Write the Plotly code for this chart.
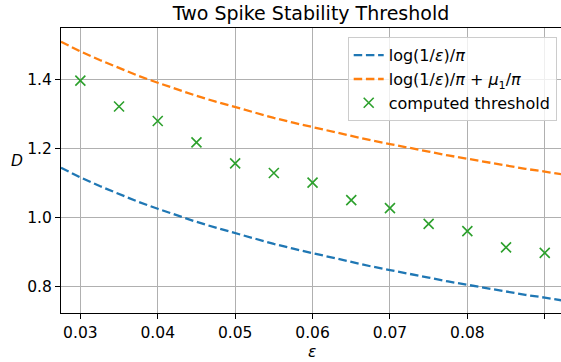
import plotly.graph_objects as go

# sampled epsilon values for the analytic curves
eps_curve = [0.0275, 0.0300, 0.0325, 0.0350, 0.0375, 0.0400, 0.0425, 0.0450, 0.0475,
             0.0500, 0.0525, 0.0550, 0.0575, 0.0600, 0.0625, 0.0650, 0.0675, 0.0700,
             0.0725, 0.0750, 0.0775, 0.0800, 0.0825, 0.0850, 0.0875, 0.0900, 0.0925]
# log(1/eps)/pi
lower_curve = [1.144, 1.116, 1.091, 1.067, 1.045, 1.025, 1.005, 0.987, 0.970,
               0.954, 0.938, 0.923, 0.909, 0.896, 0.883, 0.870, 0.858, 0.847,
               0.835, 0.825, 0.814, 0.804, 0.794, 0.785, 0.775, 0.767, 0.758]
# log(1/eps)/pi + mu1/pi
upper_curve = [1.510, 1.482, 1.457, 1.433, 1.411, 1.391, 1.371, 1.353, 1.336,
               1.320, 1.304, 1.289, 1.275, 1.262, 1.249, 1.236, 1.224, 1.213,
               1.201, 1.191, 1.180, 1.170, 1.160, 1.151, 1.141, 1.133, 1.124]

eps_points = [0.030, 0.035, 0.040, 0.045, 0.050, 0.055, 0.060, 0.065, 0.070,
              0.075, 0.080, 0.085, 0.090]
threshold = [1.397, 1.322, 1.280, 1.218, 1.157, 1.129, 1.101, 1.050, 1.027,
             0.981, 0.960, 0.913, 0.897]

x_ticks = [0.03, 0.04, 0.05, 0.06, 0.07, 0.08, 0.09]
x_tick_labels = ["0.03", "0.04", "0.05", "0.06", "0.07", "0.08", "0.09"]
y_ticks = [0.8, 1.0, 1.2, 1.4]
y_tick_labels = ["0.8", "1.0", "1.2", "1.4"]

FONT = "DejaVu Sans"
W, H = 561, 362
ml, mr, mt, mb = 61, 0, 28, 49

fig = go.Figure()
fig.add_trace(go.Scatter(
    x=eps_curve, y=lower_curve, mode="lines",
    name="log(1/<i>ε</i>)/<i>π</i>", legendgroup="a",
    line=dict(color="#1f77b4", width=2.3, dash="8.5px,3.7px")))
fig.add_trace(go.Scatter(
    x=eps_curve, y=upper_curve, mode="lines",
    name="log(1/<i>ε</i>)/<i>π</i> + <i>μ</i><sub>1</sub>/<i>π</i>", legendgroup="b",
    line=dict(color="#ff7f0e", width=2.3, dash="8.5px,3.7px")))
fig.add_trace(go.Scatter(
    x=eps_points, y=threshold, mode="markers",
    name="computed threshold", legendgroup="c",
    marker=dict(symbol="x-thin", size=10, color="#2ca02c",
                line=dict(color="#2ca02c", width=1.6))))

fig.update_layout(
    width=W, height=H,
    margin=dict(l=ml, r=mr, t=mt, b=mb),
    paper_bgcolor="white", plot_bgcolor="white",
    font=dict(family=FONT, size=15.5, color="black"),
    title=dict(text="Two Spike Stability Threshold", x=311 / W, xref="container",
               xanchor="center", y=1 - 13 / H, yref="container", yanchor="middle",
               font=dict(size=19, family=FONT, color="black")),
    xaxis=dict(range=[0.0275, 0.0921], tickvals=x_ticks, ticktext=x_tick_labels,
               showgrid=True, gridcolor="#b0b0b0", gridwidth=1.2,
               showline=True, linecolor="black", linewidth=1.2, mirror=True,
               ticks="outside", ticklen=5, tickcolor="black", tickwidth=1.2,
               zeroline=False, tickfont=dict(size=15.5)),
    yaxis=dict(range=[0.7223, 1.550], tickvals=y_ticks, ticktext=y_tick_labels,
               showgrid=True, gridcolor="#b0b0b0", gridwidth=1.2,
               showline=True, linecolor="black", linewidth=1.2, mirror=False,
               ticks="outside", ticklen=5, tickcolor="black", tickwidth=1.2,
               zeroline=False, tickfont=dict(size=15.5)),
    legend=dict(x=(556.7 - ml) / (W - ml - mr), xanchor="right",
                y=1 - (37.3 - mt) / (H - mt - mb), yanchor="top",
                bgcolor="rgba(255,255,255,0.8)", bordercolor="#cccccc", borderwidth=1,
                font=dict(size=16, family=FONT), tracegroupgap=0,
                traceorder="grouped"),
    showlegend=True,
)

fig.add_annotation(text="<i>D</i>", xref="paper", yref="paper",
                   x=-(ml - 17) / (W - ml - mr), y=1 - (161 - mt) / (H - mt - mb),
                   xanchor="center", yanchor="middle", showarrow=False,
                   font=dict(size=15.5, family=FONT))
fig.add_annotation(text="<i>ε</i>", xref="paper", yref="paper",
                   x=(312 - ml) / (W - ml - mr), y=-(352 - (H - mb)) / (H - mt - mb),
                   xanchor="center", yanchor="middle", showarrow=False,
                   font=dict(size=15.5, family=FONT))

fig.write_html("out.html", config={"displayModeBar": False},
               post_script="document.body.style.margin='0';document.body.style.overflow='hidden';")
